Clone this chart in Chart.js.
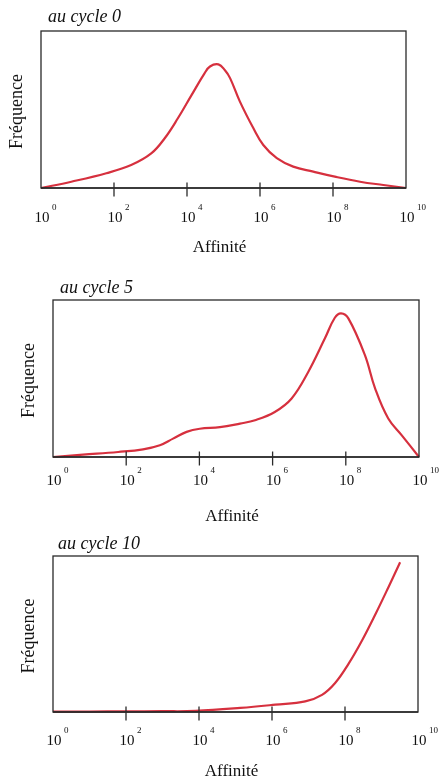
<!DOCTYPE html>
<html>
<head>
<meta charset="utf-8">
<script src="https://cdn.jsdelivr.net/npm/chart.js@4/dist/chart.umd.min.js"></script>
<style>
  html, body { margin: 0; padding: 0; background: #fff; }
  #wrap { position: relative; width: 440px; height: 779px; overflow: hidden; }
  canvas { position: absolute; left: 0; }
</style>
</head>
<body>
<div id="wrap">
  <canvas id="c0" width="440" height="265" style="top:0px"></canvas>
  <canvas id="c5" width="440" height="263" style="top:265px"></canvas>
  <canvas id="c10" width="440" height="251" style="top:528px"></canvas>
</div>
<script>
// affinity as log10 exponent, frequency as fraction of the panel height
const tickExponents = [0, 2, 4, 6, 8, 10];

const cycle0Log  = [0, 0.83, 1.79, 2.47, 3.02, 3.39, 3.75, 4.12, 4.48, 4.63, 4.86, 5.04, 5.18, 5.45, 5.82, 6.09, 6.46, 6.91, 7.46, 8.05, 8.74, 9.38, 10];
const cycle0Freq = [0, 0.04, 0.094, 0.146, 0.22, 0.317, 0.444, 0.59, 0.73, 0.774, 0.787, 0.75, 0.70, 0.55, 0.38, 0.274, 0.19, 0.136, 0.104, 0.072, 0.04, 0.019, 0];

const cycle5Log  = [0, 0.82, 1.78, 2.46, 2.92, 3.28, 3.65, 4.01, 4.56, 5.11, 5.52, 6.06, 6.52, 6.97, 7.43, 7.70, 7.87, 8.07, 8.52, 8.8, 9.16, 9.53, 10];
const cycle5Freq = [0, 0.015, 0.032, 0.049, 0.075, 0.117, 0.16, 0.18, 0.19, 0.213, 0.234, 0.287, 0.373, 0.54, 0.756, 0.887, 0.915, 0.883, 0.65, 0.437, 0.245, 0.138, 0];

const cycle10Log  = [0, 1, 2, 3, 3.9, 5.13, 6.09, 6.91, 7.37, 7.73, 8.1, 8.47, 8.84, 9.19, 9.51];
const cycle10Freq = [0.003, 0.003, 0.004, 0.005, 0.007, 0.026, 0.047, 0.068, 0.11, 0.186, 0.31, 0.46, 0.63, 0.80, 0.96];

const panelTitles = ['au cycle 0', 'au cycle 5', 'au cycle 10'];
const xTitle = 'Affinité';
const yTitle = 'Fréquence';

const SERIF = '"Liberation Serif", "DejaVu Serif", serif';
const RED = 'rgb(214, 48, 62)';
const INK = '#2a2a2a';

// frame, ticks and labels drawn from the chart's own scales
const framePlugin = {
    id: 'frame',
    afterDraw(chart, args, opts) {
        const ctx = chart.ctx;
        const a = chart.chartArea;
        const xs = chart.scales.x;
        ctx.save();
        ctx.strokeStyle = INK;
        ctx.lineWidth = 1.3;
        ctx.strokeRect(a.left, a.top, a.right - a.left, a.bottom - a.top);
        ctx.lineWidth = 1.6;
        ctx.beginPath();
        ctx.moveTo(a.left, a.bottom);
        ctx.lineTo(a.right, a.bottom);
        ctx.stroke();

        ctx.fillStyle = '#111';
        tickExponents.forEach(e => {
            const px = xs.getPixelForValue(e);
            if (e > 0 && e < 10) {
                ctx.lineWidth = 1.3;
                ctx.beginPath();
                ctx.moveTo(px, a.bottom - 5.5);
                ctx.lineTo(px, a.bottom + 8.5);
                ctx.stroke();
            }
            ctx.font = '15px ' + SERIF;
            ctx.textAlign = 'center';
            ctx.textBaseline = 'middle';
            ctx.fillText('10', px + 1, a.bottom + opts.tickOffset);
            ctx.font = '9px ' + SERIF;
            ctx.textAlign = 'left';
            ctx.fillText(String(e), px + 11, a.bottom + opts.tickOffset - 10);
        });

        ctx.font = '17px ' + SERIF;
        ctx.textAlign = 'center';
        ctx.fillText(xTitle, (a.left + a.right) / 2 - 4, a.bottom + 60);

        ctx.font = 'italic 18px ' + SERIF;
        ctx.textAlign = 'left';
        ctx.fillText(opts.title, a.left + opts.titleDx, a.top - opts.titleDy);

        ctx.save();
        ctx.translate(a.left - 24, (a.top + a.bottom) / 2 + 2);
        ctx.rotate(-Math.PI / 2);
        ctx.font = '18px ' + SERIF;
        ctx.textAlign = 'center';
        ctx.fillText(yTitle, 0, 0);
        ctx.restore();
        ctx.restore();
    }
};

function makePanel(canvasId, xs, ys, title, padding, tickOffset, titleDx, titleDy) {
    const points = xs.map((x, i) => ({ x: x, y: ys[i] }));
    return new Chart(document.getElementById(canvasId), {
        type: 'line',
        data: {
            datasets: [{
                data: points,
                borderColor: RED,
                borderWidth: 2.2,
                pointRadius: 0,
                tension: 0.4,
                fill: false,
                clip: false
            }]
        },
        options: {
            responsive: false,
            animation: false,
            events: [],
            layout: { padding: padding },
            scales: {
                x: { type: 'linear', min: 0, max: 10, display: false },
                y: { type: 'linear', min: 0, max: 1, display: false }
            },
            plugins: {
                legend: { display: false },
                tooltip: { enabled: false },
                frame: { title: title, tickOffset: tickOffset, titleDx: titleDx, titleDy: titleDy }
            }
        },
        plugins: [framePlugin]
    });
}

// panel boxes: cycle 0 y 31-188, cycle 5 y 300-457, cycle 10 y 556-712 (page coords)
makePanel('c0', cycle0Log, cycle0Freq, panelTitles[0],
    { left: 41, right: 34, top: 31, bottom: 77 }, 30, 7, 14);
makePanel('c5', cycle5Log, cycle5Freq, panelTitles[1],
    { left: 53, right: 21, top: 35, bottom: 71 }, 24, 7, 12);
makePanel('c10', cycle10Log, cycle10Freq, panelTitles[2],
    { left: 53, right: 22, top: 28, bottom: 67 }, 29, 5, 12);
</script>
</body>
</html>
